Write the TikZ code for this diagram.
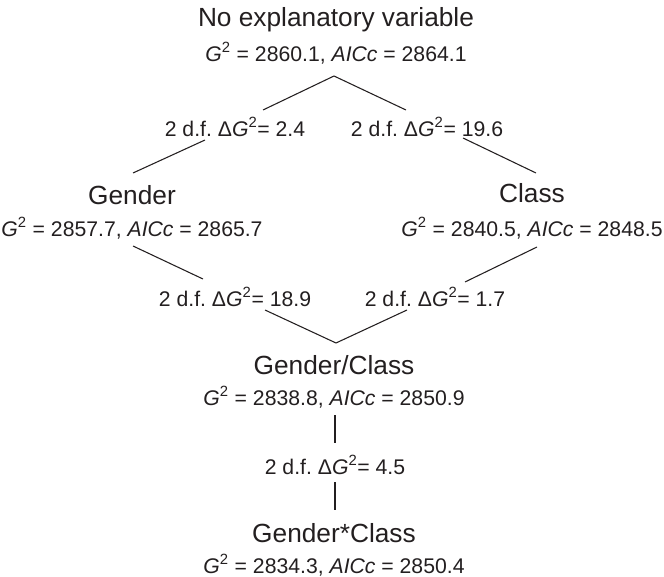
\documentclass[tikz,border=0pt]{standalone}
\usepackage{fontspec}
\setmainfont{Liberation Sans}
\usetikzlibrary{calc}
\definecolor{ink}{HTML}{231F20}

\newcommand{\Gsq}{\textit{G}\textsuperscript{2}}
\newcommand{\fitline}[2]{\Gsq\ = #1, \textit{AICc} = #2}
\newcommand{\dfline}[1]{2 d.f.\ Δ\Gsq= #1}

\tikzset{
  modelname/.style={inner sep=0pt,text=ink,font=\fontsize{19.7}{23}\selectfont},
  fitstat/.style={inner sep=0pt,text=ink,font=\fontsize{15.9}{19}\selectfont},
  dflabel/.style={inner sep=0pt,text=ink,font=\fontsize{15.9}{19}\selectfont},
  link/.style={draw=ink,line width=0.8pt}
}

\begin{document}
\begin{tikzpicture}[x=0.75pt,y=-0.75pt]
 \useasboundingbox (0,0) rectangle (664,577);
 % models
 \node[modelname] (none) at (336,20) {No explanatory variable};
 \node[fitstat] (nonestat) at (336,53) {\fitline{2860.1}{2864.1}};
 \node[modelname] (gender) at (132,195) {Gender};
 \node[fitstat] (genderstat) at (132,228) {\fitline{2857.7}{2865.7}};
 \node[modelname] (class) at (532,193) {Class};
 \node[fitstat] (classstat) at (532,228) {\fitline{2840.5}{2848.5}};
 \node[modelname] (gc) at (334,365) {Gender/Class};
 \node[fitstat] (gcstat) at (334,397) {\fitline{2838.8}{2850.9}};
 \node[modelname] (gxc) at (334,533) {Gender*Class};
 \node[fitstat] (gxcstat) at (334,565) {\fitline{2834.3}{2850.4}};
 % differences
 \node[dflabel] (dgen) at (235,127) {\dfline{2.4}};
 \node[dflabel] (dclass) at (427,127) {\dfline{19.6}};
 \node[dflabel] (dgc1) at (235,297) {\dfline{18.9}};
 \node[dflabel] (dgc2) at (435,297) {\dfline{1.7}};
 \node[dflabel] (dgxc) at (335,465) {\dfline{4.5}};
 % connectors
 \draw[link] ($(dgen)+(28,-17)$) -- ($(nonestat)+(-2,23)$) -- ($(dclass)+(-21,-17)$);
 \draw[link] ($(dgen)+(-30,13)$) -- ($(gender)+(1,-22)$);
 \draw[link] ($(dclass)+(36,11)$) -- ($(class)+(4,-20)$);
 \draw[link] ($(genderstat)+(1,18)$) -- ($(dgc1)+(-32,-18)$);
 \draw[link] ($(classstat)+(5,19)$) -- ($(dgc2)+(30,-15)$);
 \draw[link] ($(dgc1)+(30,13)$) -- ($(gc)+(2,-22)$) -- ($(dgc2)+(-28,13)$);
 \draw[link] ($(gcstat)+(1,18)$) -- ($(dgxc)+(0,-22)$);
 \draw[link] ($(dgxc)+(0,17)$) -- ($(gxc)+(1,-23)$);
\end{tikzpicture}
\end{document}
